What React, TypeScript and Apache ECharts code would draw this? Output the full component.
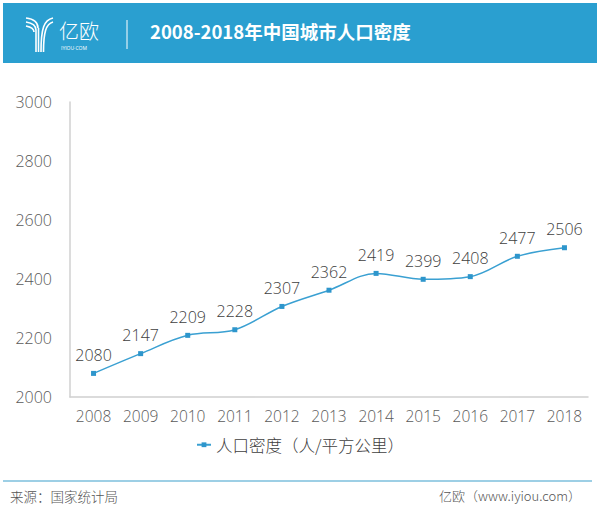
import React, { useEffect, useRef } from "react";
import * as echarts from "echarts";

const years = ["2008", "2009", "2010", "2011", "2012", "2013", "2014", "2015", "2016", "2017", "2018"];
const density = [2080, 2147, 2209, 2228, 2307, 2362, 2419, 2399, 2408, 2477, 2506];
const seriesName = "人口密度（人/平方公里）";
const title = "2008-2018年中国城市人口密度";
const sourceText = "来源：国家统计局";
const brandText = "亿欧（www.iyiou.com）";

const FONT = "'Open Sans', 'Noto Sans CJK SC', sans-serif";
const CJK = "'Noto Sans CJK SC', 'Open Sans', sans-serif";
const BLUE = "#2a9fd0";

export default function App() {
  const ref = useRef<HTMLDivElement>(null);
  useEffect(() => {
    if (!ref.current) return;
    const chart = echarts.init(ref.current, null, { renderer: "svg" });
    const white = { stroke: "#ffffff", lineWidth: 1.6, fill: "none" };
    chart.setOption({
      animation: false,
      backgroundColor: "#ffffff",
      textStyle: { fontFamily: FONT },
      grid: { left: 70, right: 12, top: 102, bottom: 114 },
      xAxis: {
        type: "category",
        data: years,
        boundaryGap: true,
        axisLine: { show: true, lineStyle: { color: "#d0d0d0", width: 1.5 } },
        axisTick: { show: false },
        axisLabel: { color: "#595959", fontSize: 15.5, margin: 11, interval: 0, fontFamily: FONT, fontWeight: 300 },
      },
      yAxis: {
        type: "value",
        min: 2000,
        max: 3000,
        interval: 200,
        axisLine: { show: true, lineStyle: { color: "#d0d0d0", width: 1.5 } },
        axisTick: { show: false },
        splitLine: { show: false },
        axisLabel: {
          color: "#595959",
          fontSize: 16,
          margin: 18,
          fontFamily: FONT,
          fontWeight: 300,
          formatter: (v: number) => String(v),
        },
      },
      legend: {
        data: [seriesName],
        bottom: 53,
        left: "center",
        itemWidth: 14,
        itemHeight: 6,
        itemGap: 4,
        textStyle: { color: "#404040", fontSize: 16.5, fontFamily: CJK, fontWeight: 300 },
      },
      series: [
        {
          name: seriesName,
          type: "line",
          data: density,
          smooth: 0.35,
          symbol: "rect",
          symbolSize: 5,
          lineStyle: { color: "#3aa0d2", width: 1.5 },
          itemStyle: { color: "#2e96cc" },
          label: {
            show: true,
            position: "top",
            distance: 8,
            color: "#404040",
            fontSize: 16,
            fontFamily: FONT,
            fontWeight: 300,
          },
        },
      ],
      graphic: [
        { type: "rect", left: 3, top: 3, shape: { x: 0, y: 0, width: 594, height: 60 }, style: { fill: BLUE } },
        // logo Y
        { type: "bezierCurve", shape: { x1: 26, y1: 18, x2: 38, y2: 28, cpx1: 34, cpy1: 19, cpx2: 38, cpy2: 22 }, style: white },
        { type: "bezierCurve", shape: { x1: 26, y1: 22, x2: 36, y2: 30, cpx1: 32, cpy1: 23, cpx2: 36, cpy2: 26 }, style: white },
        { type: "bezierCurve", shape: { x1: 26, y1: 26, x2: 34, y2: 32, cpx1: 31, cpy1: 27, cpx2: 34, cpy2: 29 }, style: white },
        { type: "line", shape: { x1: 36, y1: 30, x2: 36, y2: 52 }, style: white },
        { type: "line", shape: { x1: 38.5, y1: 28, x2: 38.5, y2: 52 }, style: white },
        { type: "bezierCurve", shape: { x1: 41, y1: 52, x2: 53, y2: 18, cpx1: 41, cpy1: 28, cpx2: 44, cpy2: 20 }, style: white },
        { type: "bezierCurve", shape: { x1: 43.5, y1: 52, x2: 53, y2: 22, cpx1: 43.5, cpy1: 32, cpx2: 46, cpy2: 24 }, style: white },
        {
          type: "text",
          left: 59,
          top: 20,
          style: { text: "亿欧", fill: "#ffffff", font: `300 20px ${CJK}` },
        },
        {
          type: "text",
          left: 61,
          top: 45,
          style: { text: "IYIOU·COM", fill: "#ffffff", font: `5px ${FONT}` },
        },
        { type: "line", shape: { x1: 127, y1: 20, x2: 127, y2: 49 }, style: { stroke: "#ffffff", lineWidth: 1 } },
        {
          type: "text",
          left: 150,
          top: 22,
          style: { text: title, fill: "#ffffff", font: `bold 18.5px ${CJK}` },
        },
        { type: "line", shape: { x1: 3, y1: 481, x2: 592, y2: 481 }, style: { stroke: "#3d9fcb", lineWidth: 1.2 } },
        {
          type: "text",
          left: 10,
          top: 489,
          style: { text: sourceText, fill: "#555555", font: `300 13.5px ${CJK}` },
        },
        {
          type: "text",
          right: 19,
          top: 489,
          style: { text: brandText, fill: "#555555", font: `300 13px ${CJK}` },
        },
      ],
    });
    return () => chart.dispose();
  }, []);
  return <div ref={ref} style={{ width: 600, height: 511, position: "absolute", left: 0, top: 0 }} />;
}
